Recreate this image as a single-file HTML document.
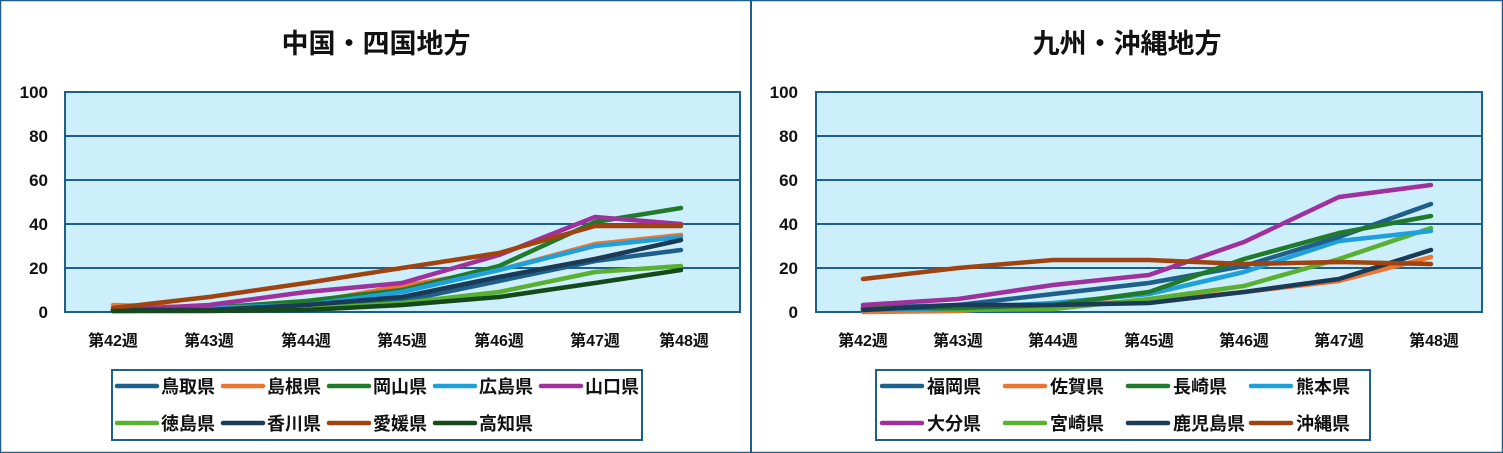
<!DOCTYPE html>
<html><head><meta charset="utf-8"><style>
html,body{margin:0;padding:0;background:#fff}
svg{display:block}
text{font-family:"Liberation Sans","Noto Sans CJK JP",sans-serif;font-weight:bold;fill:#111}
</style></head><body>
<svg width="1503" height="453" viewBox="0 0 1503 453" xmlns="http://www.w3.org/2000/svg">
<rect x="0.5" y="0.5" width="1502" height="452" fill="#fff" stroke="#1f5f8b" stroke-width="1.5"/>
<line x1="751" y1="0" x2="751" y2="453" stroke="#1f5f8b" stroke-width="2"/>

<!-- LEFT -->
<text x="376" y="53" font-size="27" text-anchor="middle">中国・四国地方</text>
<rect x="65" y="92" width="675" height="220" fill="#cdeefb" stroke="#1f5f8b" stroke-width="2"/>
<g stroke="#1f5f8b" stroke-width="2">
<line x1="65" y1="136" x2="740" y2="136"/><line x1="65" y1="180" x2="740" y2="180"/>
<line x1="65" y1="224" x2="740" y2="224"/><line x1="65" y1="268" x2="740" y2="268"/>
</g>
<g font-size="17" text-anchor="end">
<text x="48" y="98">100</text><text x="48" y="142">80</text><text x="48" y="186">60</text>
<text x="48" y="230">40</text><text x="48" y="274">20</text><text x="48" y="318">0</text>
</g>
<g font-size="16" text-anchor="middle">
<text x="113" y="346">第42週</text><text x="209" y="346">第43週</text><text x="306" y="346">第44週</text>
<text x="402" y="346">第45週</text><text x="499" y="346">第46週</text><text x="595" y="346">第47週</text><text x="684" y="346">第48週</text>
</g>
<g fill="none" stroke-width="4.5" stroke-linejoin="round" stroke-linecap="round">
<polyline stroke="#1f5f8b" points="113,311 209,310 306,308 402,301 499,281 595,261 681,250"/>
<polyline stroke="#ed7431" points="113,305 209,308 306,303 402,286 499,270 595,244 681,235"/>
<polyline stroke="#217a2a" points="113,310 209,308 306,301 402,290 499,266 595,222 681,208"/>
<polyline stroke="#1ea0dc" points="113,310 209,308 306,305 402,292 499,270 595,246 681,237"/>
<polyline stroke="#a0309c" points="113,310 209,305 306,292 402,283 499,255 595,217 681,224"/>
<polyline stroke="#5ab030" points="113,311 209,310 306,309 402,303 499,292 595,272 681,266"/>
<polyline stroke="#1a3a55" points="113,310 209,310 306,305 402,297 499,277 595,259 681,240"/>
<polyline stroke="#a0430f" points="113,308 209,297 306,283 402,268 499,253 595,226 681,226"/>
<polyline stroke="#144a1a" points="113,311 209,311 306,310 402,305 499,297 595,283 681,270"/>
</g>
<rect x="112" y="370" width="530" height="70" fill="none" stroke="#1f5f8b" stroke-width="2"/>
<g stroke-width="4.5" stroke-linecap="round">
<line x1="117" y1="386" x2="157" y2="386" stroke="#1f5f8b"/>
<line x1="223" y1="386" x2="263" y2="386" stroke="#ed7431"/>
<line x1="329" y1="386" x2="369" y2="386" stroke="#217a2a"/>
<line x1="435" y1="386" x2="475" y2="386" stroke="#1ea0dc"/>
<line x1="541" y1="386" x2="581" y2="386" stroke="#a0309c"/>
<line x1="117" y1="423" x2="157" y2="423" stroke="#5ab030"/>
<line x1="223" y1="423" x2="263" y2="423" stroke="#1a3a55"/>
<line x1="329" y1="423" x2="369" y2="423" stroke="#a0430f"/>
<line x1="435" y1="423" x2="475" y2="423" stroke="#144a1a"/>
</g>
<g font-size="18">
<text x="161" y="393">鳥取県</text><text x="267" y="393">島根県</text><text x="373" y="393">岡山県</text><text x="479" y="393">広島県</text><text x="585" y="393">山口県</text>
<text x="161" y="430">徳島県</text><text x="267" y="430">香川県</text><text x="373" y="430">愛媛県</text><text x="479" y="430">高知県</text>
</g>

<!-- RIGHT -->
<text x="1127" y="53" font-size="27" text-anchor="middle">九州・沖縄地方</text>
<rect x="816" y="92" width="666" height="220" fill="#cdeefb" stroke="#1f5f8b" stroke-width="2"/>
<g stroke="#1f5f8b" stroke-width="2">
<line x1="816" y1="136" x2="1482" y2="136"/><line x1="816" y1="180" x2="1482" y2="180"/>
<line x1="816" y1="224" x2="1482" y2="224"/><line x1="816" y1="268" x2="1482" y2="268"/>
</g>
<g font-size="17" text-anchor="end">
<text x="798" y="98">100</text><text x="798" y="142">80</text><text x="798" y="186">60</text>
<text x="798" y="230">40</text><text x="798" y="274">20</text><text x="798" y="318">0</text>
</g>
<g font-size="16" text-anchor="middle">
<text x="863" y="346">第42週</text><text x="958" y="346">第43週</text><text x="1053" y="346">第44週</text>
<text x="1149" y="346">第45週</text><text x="1244" y="346">第46週</text><text x="1339" y="346">第47週</text><text x="1434" y="346">第48週</text>
</g>
<g fill="none" stroke-width="4.5" stroke-linejoin="round" stroke-linecap="round">
<polyline stroke="#ed7431" points="863,312 958,311 1053,305 1149,301 1244,292 1339,281 1431,257"/>
<polyline stroke="#5ab030" points="863,308 958,310 1053,309 1149,299 1244,286 1339,259 1431,228"/>
<polyline stroke="#1ea0dc" points="863,310 958,308 1053,303 1149,294 1244,272 1339,241 1431,231"/>
<polyline stroke="#1f5f8b" points="863,308 958,305 1053,294 1149,283 1244,266 1339,237 1431,204"/>
<polyline stroke="#217a2a" points="863,308 958,308 1053,305 1149,292 1244,259 1339,233 1431,216"/>
<polyline stroke="#a0309c" points="863,305 958,299 1053,285 1149,275 1244,242 1339,197 1431,185"/>
<polyline stroke="#1a3a55" points="863,310 958,305 1053,305 1149,303 1244,292 1339,279 1431,250"/>
<polyline stroke="#a0430f" points="863,279 958,268 1053,260 1149,260 1244,264 1339,262 1431,264"/>
</g>
<rect x="876" y="370" width="494" height="70" fill="none" stroke="#1f5f8b" stroke-width="2"/>
<g stroke-width="4.5" stroke-linecap="round">
<line x1="882" y1="386" x2="922" y2="386" stroke="#1f5f8b"/>
<line x1="1005" y1="386" x2="1045" y2="386" stroke="#ed7431"/>
<line x1="1128" y1="386" x2="1168" y2="386" stroke="#217a2a"/>
<line x1="1251" y1="386" x2="1291" y2="386" stroke="#1ea0dc"/>
<line x1="882" y1="423" x2="922" y2="423" stroke="#a0309c"/>
<line x1="1005" y1="423" x2="1045" y2="423" stroke="#5ab030"/>
<line x1="1128" y1="423" x2="1168" y2="423" stroke="#1a3a55"/>
<line x1="1251" y1="423" x2="1291" y2="423" stroke="#a0430f"/>
</g>
<g font-size="18">
<text x="927" y="393">福岡県</text><text x="1050" y="393">佐賀県</text><text x="1173" y="393">長崎県</text><text x="1296" y="393">熊本県</text>
<text x="927" y="430">大分県</text><text x="1050" y="430">宮崎県</text><text x="1173" y="430">鹿児島県</text><text x="1296" y="430">沖縄県</text>
</g>
</svg>
</body></html>
